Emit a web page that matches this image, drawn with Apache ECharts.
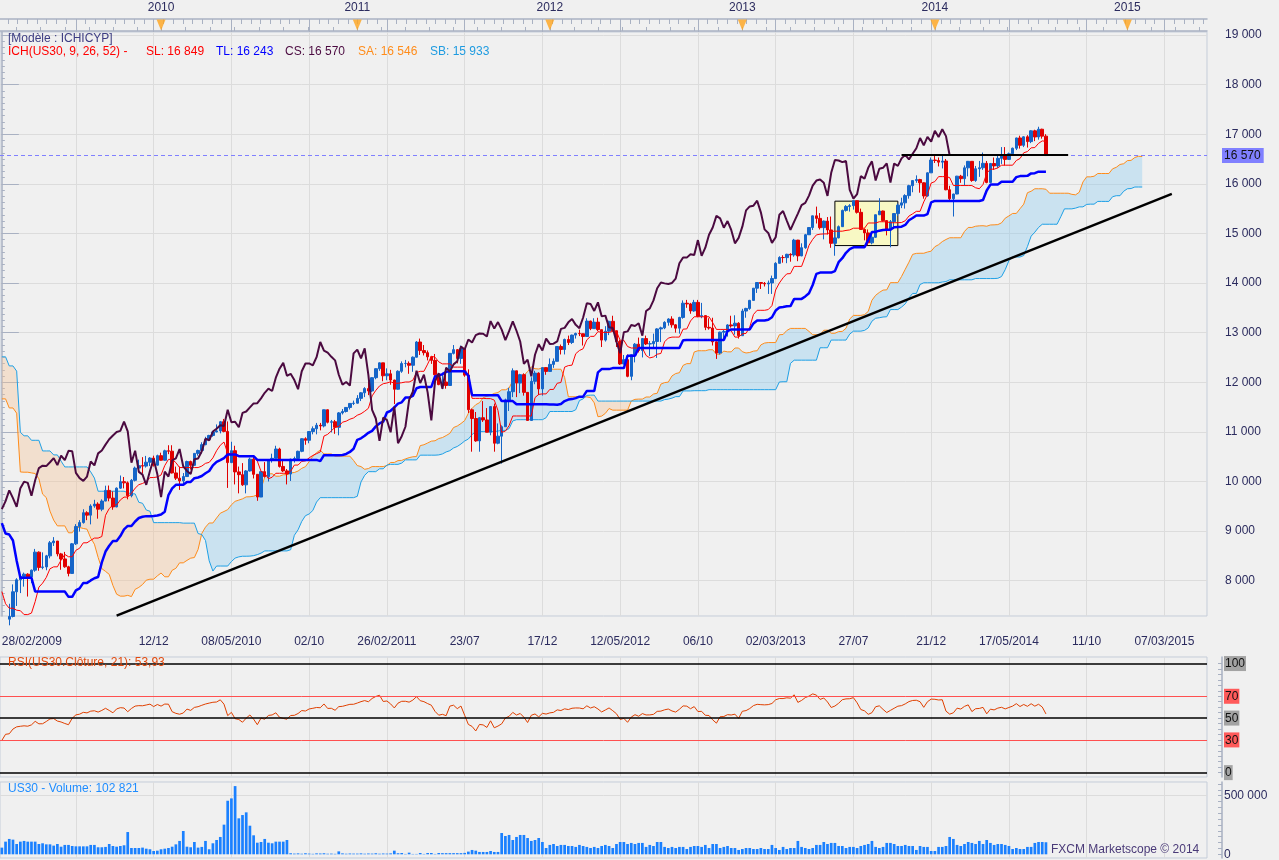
<!DOCTYPE html>
<html>
<head>
<meta charset="utf-8">
<script src="https://cdn.jsdelivr.net/npm/echarts@6/dist/echarts.min.js"></script>
<style>
html,body{margin:0;padding:0;background:#f0f0f0;}
#chart{width:1279px;height:860px;}
</style>
</head>
<body>
<div id="chart"></div>
<script>
/* US30 hebdo - Ichimoku + RSI + volume */

// historique avant le graphique (sept. 2007 - fev. 2009), sert aux calculs
var firstOpen = 13358;
var preClose = [13113,13442,13820,13896,14066,14093,13522,13807,13595,13042,13177,12980,13372,13625,13339,13450,13366,12800,12606,12099,12207,12743,12182,12348,12381,12266,11894,11951,12361,12216,12609,12325,12849,12891,13058,12745,12986,12480,12638,12210,12307,11843,11347,11288,11100,11496,11370,11326,11734,11659,11628,11543,11220,11421,11388,11143,10325,8451,8852,8378,9325,8943,8497,8046,8829,8635,8629,8579,8515,9034,8599,8281,8077,8001,8280,7850,7366,7062];
var preHigh = [13400,13480,13900,13990,14090,14198,14100,13850,13960,13620,13300,13210,13410,13660,13780,13470,13620,13370,12930,12700,12380,12770,12750,12460,12410,12750,12270,12170,12400,12550,12660,12650,12870,12920,13136,13080,13030,13030,12690,12650,12380,12330,11850,11400,11400,11560,11700,11560,11800,11870,11690,11790,11790,11850,11430,11390,11150,10330,9390,9270,9650,9650,9000,8720,8880,8830,8930,8950,8620,9060,9090,8600,8300,8420,8340,8320,7880,7390];
var preLow = [13080,13030,13380,13740,13840,13980,13500,13460,13470,13000,12900,12720,12740,13200,13270,13060,13300,12780,12430,12030,11630,12060,12060,12130,12060,12240,11850,11730,11790,12200,12200,12300,12300,12700,12800,12700,12720,12470,12410,12190,12100,11830,11330,11150,11000,10827,11280,11100,11280,11550,11330,11380,11100,11150,10460,10900,10250,7880,8170,8170,8180,8560,8200,7450,7960,7880,8360,8450,8400,8460,8560,7990,7900,7930,7800,7760,7250,7000];

// bougies hebdo affichees (semaine du 28/02/2009 -> 26/07/2014)
var close2009 = [6627,7224,7278,7776,8018,8083,8131,8076,8212,8575,8268,8277,8500,8764,8799,8540,8438,8280,8146,8743,9093,9171,9370,9321,9505,9544,9441,9605,9820,9665,9487,9865,9996,9972,9713,10023,10270,10318,10310,10388,10471,10329,10520,10428];
var high2009 = [7063,7250,7535,7925,8050,8090,8163,8150,8225,8640,8590,8570,8520,8800,8878,8800,8560,8580,8300,8760,9140,9220,9440,9400,9540,9630,9580,9640,9915,9918,9800,9880,10120,10090,10000,10050,10300,10440,10490,10515,10490,10520,10540,10580];
var low2009 = [6470,6517,7100,7260,7490,7750,7880,7680,7950,8180,8200,8230,8210,8450,8700,8490,8220,8260,8087,8140,8720,8990,9150,9220,9135,9470,9250,9400,9600,9600,9430,9480,9850,9860,9640,9680,10000,10240,10160,10280,10310,10300,10320,10420];

var close2010 = [10618,10610,10172,10067,10012,10099,10402,10325,10566,10625,10742,10850,10927,10997,11019,11204,11009,10380,10620,10193,10137,9932,10212,10450,10144,9686,10198,10098,10425,10466,10654,10303,10213,10150,10448,10462,10608,10861,10830,11006,11063,11133,11118,11445,11193,11204,11092,11382,11410,11492,11573,11578];
var high2010 = [10640,10730,10730,10300,10300,10170,10420,10420,10570,10640,10790,10900,10940,11010,11150,11220,11260,11210,10800,10720,10300,10370,10230,10480,10500,10140,10200,10390,10450,10560,10720,10680,10450,10250,10460,10500,10620,10870,10890,11010,11110,11180,11180,11450,11450,11240,11240,11400,11460,11500,11580,11630];
var low2010 = [10420,10550,10160,10030,9830,9940,10090,10240,10330,10520,10560,10730,10830,10900,10990,10970,10990,9870,10370,9940,9760,9910,9760,10200,10060,9610,9690,10080,10000,10380,10460,10280,10190,9940,10010,10380,10450,10590,10740,10770,10950,10950,11030,11090,11170,10990,10960,10930,11350,11390,11450,11540];

var close2011 = [11675,11787,11872,11824,12092,12273,12391,12130,12170,12044,11859,12221,12377,12380,12342,12505,12811,12638,12596,12512,12441,12151,11952,12004,11934,12582,12657,12480,12681,12143,11445,11269,10818,11285,11240,10992,11509,10771,10913,11103,11644,11809,12231,11983,12153,11796,11231,12019,12184,11866,12294,12218];
var high2011 = [11740,11800,11900,12020,12100,12280,12400,12390,12280,12250,12050,12240,12420,12450,12420,12520,12830,12880,12750,12640,12520,12570,12160,12190,12170,12590,12750,12670,12740,12680,12260,11470,11400,11300,11620,11480,11520,11570,11170,11130,11670,11890,12280,12230,12170,12180,11800,12100,12230,12200,12300,12300];
var low2011 = [11570,11620,11700,11740,11800,12060,12230,12020,12040,11950,11560,11850,12190,12300,12170,12210,12500,12550,12540,12440,12370,12130,11940,11860,11870,11930,12560,12380,12370,12110,11380,10600,10800,10600,11200,10990,10930,10600,10750,10360,11100,11420,11700,11700,11780,11730,11230,11230,11960,11740,11730,12150];

var close2012 = [12360,12422,12720,12660,12862,12801,12950,12983,12978,12922,13233,13081,13212,13060,12850,13029,13228,13038,12821,12369,12455,12119,12554,12767,12640,12880,12772,12777,12822,13075,13096,13207,13275,13157,13090,13306,13593,13579,13437,13610,13328,13343,13107,13093,12815,12588,13009,13025,13155,13135,13190,12938];
var high2012 = [12480,12480,12730,12760,12880,12940,12960,13000,13060,12980,13290,13240,13290,13300,13060,13130,13240,13340,13040,12850,12550,12560,12560,12790,12900,12890,12940,12830,12980,13090,13120,13230,13290,13330,13170,13320,13650,13660,13600,13660,13660,13600,13350,13290,13300,12820,13020,13060,13170,13340,13350,13210];
var low2012 = [12220,12290,12420,12560,12560,12750,12770,12880,12930,12740,12920,13050,13080,13030,12710,12820,12950,13030,12710,12350,12360,12100,12040,12400,12600,12500,12750,12530,12700,12490,12810,13070,13140,13100,13000,12980,13280,13500,13380,13420,13310,13290,13050,13060,12740,12470,12560,12830,12920,13100,12960,12880];

var close2013 = [13435,13488,13650,13896,14010,13993,13982,14001,14090,14397,14515,14512,14579,14565,14865,14547,14712,14973,15118,15354,15303,15116,15248,15070,14800,14910,15136,15464,15544,15559,15659,15425,15081,15010,14810,14922,15376,15452,15258,15073,15237,15400,15570,15616,15762,15962,16065,16086,16020,15755,16221,16479];
var high2013 = [13480,13500,13660,13900,14020,14010,14020,14050,14150,14420,14540,14560,14590,14600,14890,14870,14800,14990,15120,15360,15540,15410,15260,15330,15340,15050,15160,15480,15570,15590,15660,15640,15500,15100,15080,14970,15380,15710,15460,15260,15270,15410,15600,15720,15790,15980,16070,16170,16100,16030,16230,16530];
var low2013 = [12940,13300,13460,13650,13800,13880,13930,13780,13780,14080,14400,14410,14400,14430,14530,14440,14540,14690,14970,15070,15200,15080,14880,14980,14710,14550,14900,15130,15440,15440,15480,15400,15070,14860,14760,14780,14910,15370,15240,14960,14720,15100,15350,15510,15500,15700,15830,16020,15820,15700,15740,16220];

var close2014 = [16470,16437,16459,15880,15699,15794,16154,16103,16322,16453,16066,16303,16323,16413,16027,16409,16361,16513,16583,16492,16606,16717,16924,16776,16947,16851,17068,16944,17100,16961,16570];
var high2014 = [16590,16530,16590,16500,15960,15800,16160,16180,16370,16460,16450,16360,16460,16630,16460,16420,16530,16590,16740,16740,16630,16730,16930,16970,16960,16980,17080,17090,17150,17110,17000];
var low2014 = [16420,16350,16310,15870,15660,15340,15790,16020,15960,16150,16040,16040,16140,16280,16010,16050,16280,16320,16400,16370,16480,16580,16680,16710,16740,16730,16820,16860,16890,16910,16560];

// volume hebdo
var vol2009 = [57000,108000,131000,125000,88000,108000,114000,108000,108000,108000,88000,94000,85000,85000,74000,88000,65000,80000,80000,71000,68000,68000,68000,68000,80000,80000,60000,60000,63000,88000,71000,65000,71000,77000,190000,54000,54000,54000,57000,48000,43000,28000,31000,43000];
var vol2010 = [48000,54000,65000,85000,114000,199000,65000,60000,105000,57000,63000,114000,43000,94000,122000,148000,253000,457000,477000,582000,307000,335000,358000,244000,162000,99000,105000,131000,99000,94000,108000,108000,108000,122000,9000,6000,8000,5000,9000,6000,4000,8000,7000,9000,5000,6000,4000,25000,8000,5000,7000,6000];
var vol2011 = [6000,8000,5000,7000,6000,9000,5000,7000,6000,8000,31000,9000,11000,3000,14000,3000,3000,11000,3000,11000,11000,3000,11000,10000,10000,10000,10000,10000,10000,12000,23000,37000,31000,20000,20000,20000,28000,20000,20000,182000,156000,165000,122000,148000,165000,165000,139000,114000,122000,139000,105000,54000];
var vol2012 = [80000,88000,71000,80000,80000,71000,71000,63000,80000,71000,63000,54000,63000,54000,71000,80000,71000,54000,88000,105000,105000,88000,97000,88000,97000,97000,63000,80000,71000,105000,105000,63000,54000,63000,54000,63000,63000,45000,63000,71000,71000,63000,80000,54000,88000,88000,54000,63000,71000,54000,54000,37000];
var vol2013 = [45000,54000,54000,45000,45000,54000,45000,45000,80000,54000,37000,63000,45000,54000,54000,114000,63000,54000,45000,54000,80000,80000,105000,88000,97000,97000,71000,71000,54000,63000,63000,54000,71000,80000,88000,114000,63000,54000,63000,97000,97000,88000,71000,71000,80000,71000,71000,37000,71000,63000,63000,28000];
var vol2014 = [28000,63000,63000,71000,148000,131000,80000,71000,88000,105000,97000,88000,114000,88000,122000,97000,80000,88000,88000,80000,71000,45000,54000,45000,45000,63000,63000,97000,105000,105000,102821];

// axe des dates (index de semaine depuis le 28/02/2009)
var dateLabelIdx = [0,41,62,83,104,125,146,167,188,209,230,251,272,293,314];
var dateLabels = ['28/02/2009','12/12','08/05/2010','02/10','26/02/2011','23/07','17/12','12/05/2012','06/10','02/03/2013','27/07','21/12','17/05/2014','11/10','07/03/2015'];
var dateTickIdx = [20,41,62,83,104,125,146,167,188,209,230,251,272,293,314];
var yearIdx = [43,96,148,200,252,304];
var yearLabels = ['2010','2011','2012','2013','2014','2015'];

var priceTicks = [8000,9000,10000,11000,12000,13000,14000,15000,16000,17000,18000,19000];
var rsiLevels = [0,30,50,70,100];
var lastPrice = 16570;

// traces manuels (index semaine, prix)
var trendLine = [[31,7295],[316,15796]];
var resistance = [[243,16580],[288,16580]];
var boxZone = [[225,15650],[242,14755]];

/* ------------------------------------------------------------------ */
var close = preClose.concat(close2009,close2010,close2011,close2012,close2013,close2014);
var high = preHigh.concat(high2009,high2010,high2011,high2012,high2013,high2014);
var low = preLow.concat(low2009,low2010,low2011,low2012,low2013,low2014);
var volume = vol2009.concat(vol2010,vol2011,vol2012,vol2013,vol2014);
var P = preClose.length;
var last = close.length - 1 - P;
var N = 326;
var yMin = 7288, yMax = 19060;

function fmt(v){ return String(Math.round(v)).replace(/\B(?=(\d{3})+(?!\d))/g,' '); }
function pad(n){ return n < 10 ? '0'+n : ''+n; }

var cats = [];
for (var i = 0; i < N; i++) {
    var d = new Date(2009, 1, 28 + 7*i);
    cats.push(pad(d.getDate())+'/'+pad(d.getMonth()+1)+'/'+d.getFullYear());
}

function midRange(k, n) {
    if (k - n + 1 < 0 || k >= close.length) return null;
    var h = -Infinity, l = Infinity;
    for (var j = k-n+1; j <= k; j++) {
        if (high[j] > h) h = high[j];
        if (low[j] < l) l = low[j];
    }
    return (h + l) / 2;
}

// RSI 21 (Wilder)
var RN = 21, ag = 0, al = 0, rsiFull = [null];
for (var k = 1; k < close.length; k++) {
    var ch = close[k]-close[k-1], g = ch > 0 ? ch : 0, l = ch < 0 ? -ch : 0;
    if (k <= RN) {
        ag += g/RN; al += l/RN;
        rsiFull.push(k === RN ? 100-100/(1+ag/al) : null);
    } else {
        ag = (ag*(RN-1)+g)/RN; al = (al*(RN-1)+l)/RN;
        rsiFull.push(100-100/(1+ag/al));
    }
}

var candles=[], tenkan=[], kijun=[], chikou=[], spanA=[], spanB=[], cloudBase=[], cloudUp=[], cloudDown=[], rsi=[], vols=[];
for (var i = 0; i < N; i++) {
    var k = i + P;
    if (i <= last) {
        candles.push([k === 0 ? firstOpen : close[k-1], close[k], low[k], high[k]]);
        tenkan.push(midRange(k, 9));
        kijun.push(midRange(k, 26));
        rsi.push(rsiFull[k]);
        vols.push(volume[i]);
    } else {
        candles.push('-'); tenkan.push('-'); kijun.push('-'); rsi.push('-'); vols.push('-');
    }
    chikou.push(k+26 < close.length ? close[k+26] : '-');
    var t = midRange(k-26, 9), kj = midRange(k-26, 26), b = midRange(k-26, 52);
    if (t !== null && kj !== null && b !== null) {
        var a = (t + kj) / 2;
        spanA.push(a); spanB.push(b);
        cloudBase.push(Math.min(a, b));
        cloudUp.push(a >= b ? a-b : 0);
        cloudDown.push(a < b ? b-a : 0);
    } else {
        spanA.push('-'); spanB.push('-'); cloudBase.push('-'); cloudUp.push('-'); cloudDown.push('-');
    }
}

var minorDateTicks = [];
for (var v = dateTickIdx[0] - 21; v <= N; v += 21/8) if (v > -0.5 && v < N-0.5) minorDateTicks.push(v);
var yearTicks = [];
for (var y = 0; y < yearIdx.length; y++) {
    var s = yearIdx[y], e = y+1 < yearIdx.length ? yearIdx[y+1] : s+52;
    for (var m = 0; m < 8; m++) yearTicks.push(s + (e-s)*m/8);
}
for (var m = 1; m <= 6; m++) yearTicks.unshift(yearIdx[0] - 6.5*m);
yearTicks = yearTicks.filter(function(v){ return v > -0.5 && v < N-0.5; });
var priceMinor = [];
for (var v = 7375; v < yMax; v += 125) priceMinor.push(v);
var rsiMinor = [];
for (var v = 0; v <= 100; v += 5) rsiMinor.push(v);
var volMinor = [];
for (var v = 0; v <= 600000; v += 50000) volMinor.push(v);

/* ------------------------------------------------------------------ */
var font = 'Liberation Sans', axisColor = '#a9b1c2', labelColor = '#2b2b5e', gridColor = '#dcdcdc';

function weekAxis(grid, extra) {
    var ax = {type:'value', gridIndex:grid, min:-0.5, max:N-0.5,
        axisLabel:{show:false}, axisTick:{show:false}, axisLine:{show:false},
        splitLine:{show:false}};
    for (var p in extra) ax[p] = extra[p];
    return ax;
}
function catAxis(grid, extra) {
    var ax = {type:'category', gridIndex:grid, data:cats, boundaryGap:true,
        axisLabel:{show:false}, axisTick:{show:false}, axisLine:{show:false}, splitLine:{show:false}};
    for (var p in extra) ax[p] = extra[p];
    return ax;
}
var gridBase = {left:0, width:1207, show:true, borderColor:'#c5cdd9', borderWidth:1,
    backgroundColor:'transparent', containLabel:false, outerBoundsMode:'none'};
function mkGrid(top, height) {
    var g = {}; for (var p in gridBase) g[p] = gridBase[p];
    g.top = top; g.height = height; return g;
}
function txt(x, y, s, color) {
    return {type:'text', left:x, top:y, z:100, style:{text:s, fill:color, font:'12px "Liberation Sans"'}};
}

var chart = echarts.init(document.getElementById('chart'));
var option = {
    animation: false,
    backgroundColor: '#f0f0f0',
    textStyle: {fontFamily: font},
    grid: [mkGrid(32, 584), mkGrid(657, 120), mkGrid(782, 76),
        {left:0, width:1207, top:19, height:12, show:false, outerBoundsMode:'none'}],
    xAxis: [
        catAxis(0, {offset:13, axisLabel:{show:true, margin:7, color:labelColor, fontSize:12, fontFamily:font,
            alignMinLabel:'left',
            interval:function(i){ return dateLabelIdx.indexOf(i) >= 0; },
            formatter:function(v, i){ var p = dateLabelIdx.indexOf(i); return p >= 0 ? dateLabels[p] : ''; }}}),
        weekAxis(0, {offset:13, axisLine:{show:true, lineStyle:{color:axisColor, width:1.5}},
            axisTick:{show:true, inside:true, length:13, customValues:dateTickIdx, lineStyle:{color:axisColor}},
            splitLine:{show:true, lineStyle:{color:gridColor}}}),
        weekAxis(0, {offset:13, axisTick:{show:true, inside:true, length:5, customValues:minorDateTicks, lineStyle:{color:axisColor}}}),
        catAxis(1, {}),
        weekAxis(1, {axisTick:{show:false, customValues:dateTickIdx}, splitLine:{show:true, lineStyle:{color:gridColor}}}),
        catAxis(2, {}),
        weekAxis(2, {axisTick:{show:false, customValues:dateTickIdx}, splitLine:{show:true, lineStyle:{color:gridColor}}}),
        weekAxis(3, {position:'top', axisLine:{show:true, lineStyle:{color:axisColor, width:1.5}},
            axisTick:{show:true, inside:false, length:4, customValues:yearTicks, lineStyle:{color:axisColor}},
            axisLabel:{show:true, margin:5, customValues:yearIdx, color:labelColor, fontSize:12, fontFamily:font,
                formatter:function(v){ var p = yearIdx.indexOf(Math.round(v)); return p >= 0 ? yearLabels[p] : ''; }}})
    ],
    yAxis: [
        {type:'value', gridIndex:0, position:'right', min:yMin, max:yMax,
            axisLine:{show:false},
            axisTick:{show:true, length:17, customValues:priceTicks, lineStyle:{color:axisColor}},
            axisLabel:{customValues:priceTicks, margin:18, color:labelColor, fontSize:12, fontFamily:font, formatter:fmt},
            splitLine:{show:true, lineStyle:{color:gridColor}}},
        {type:'value', gridIndex:0, position:'right', offset:15, min:yMin, max:yMax,
            axisLine:{show:true, lineStyle:{color:axisColor, width:1.5}},
            axisTick:{show:true, length:3, customValues:priceMinor, lineStyle:{color:axisColor}},
            axisLabel:{show:false}, splitLine:{show:false}},
        {type:'value', gridIndex:1, position:'right', min:-4, max:106,
            axisLine:{show:false}, axisTick:{show:false, customValues:rsiLevels},
            axisLabel:{customValues:rsiLevels, margin:17, fontSize:12, fontFamily:font,
                formatter:function(v){ return (v === 30 || v === 70) ? '{r|'+v+'}' : '{g|'+v+'}'; },
                rich:{g:{backgroundColor:'#a3a3a3', color:'#111', fontSize:12, padding:[2,1,1,1]},
                      r:{backgroundColor:'#ff5a5a', color:'#111', fontSize:12, padding:[2,1,1,1]}}},
            splitLine:{show:false}},
        {type:'value', gridIndex:1, position:'right', offset:15, min:-4, max:106,
            axisLine:{show:true, lineStyle:{color:axisColor, width:1.5}},
            axisTick:{show:true, inside:true, length:4, customValues:rsiMinor, lineStyle:{color:axisColor}},
            axisLabel:{show:false}, splitLine:{show:false}},
        {type:'value', gridIndex:2, position:'right', min:-31570, max:616894,
            axisLine:{show:false}, axisTick:{show:false, customValues:[500000]},
            axisLabel:{customValues:[0,500000], margin:17, color:labelColor, fontSize:12, fontFamily:font, formatter:fmt},
            splitLine:{show:true, lineStyle:{color:gridColor}}},
        {type:'value', gridIndex:2, position:'right', offset:15, min:-31570, max:616894,
            axisLine:{show:true, lineStyle:{color:axisColor, width:1.5}},
            axisTick:{show:true, inside:true, length:4, customValues:volMinor, lineStyle:{color:axisColor}},
            axisLabel:{show:false}, splitLine:{show:false}},
        {type:'value', gridIndex:3, min:0, max:1, show:false}
    ],
    series: [
        {name:'base nuage', type:'line', xAxisIndex:0, yAxisIndex:0, stack:'nuage', stackStrategy:'all',
            data:cloudBase, symbol:'none', lineStyle:{opacity:0}, z:1, silent:true,
            markArea:{silent:true, data:[[
                {coord:boxZone[0], itemStyle:{color:'#f8f8c4', borderColor:'#000', borderWidth:1}},
                {coord:boxZone[1]}]]}},
        {name:'nuage haussier', type:'line', xAxisIndex:0, yAxisIndex:0, stack:'nuage', stackStrategy:'all',
            data:cloudUp, symbol:'none', lineStyle:{opacity:0}, areaStyle:{color:'rgba(140,204,240,0.55)'}, z:1, silent:true},
        {name:'nuage baissier', type:'line', xAxisIndex:0, yAxisIndex:0, stack:'nuage', stackStrategy:'all',
            data:cloudDown, symbol:'none', lineStyle:{opacity:0}, areaStyle:{color:'rgba(244,196,152,0.55)'}, z:1, silent:true},
        {name:'SA', type:'line', xAxisIndex:0, yAxisIndex:0, data:spanA, symbol:'none',
            lineStyle:{color:'#ff8c1a', width:1}, z:2, silent:true},
        {name:'SB', type:'line', xAxisIndex:0, yAxisIndex:0, data:spanB, symbol:'none',
            lineStyle:{color:'#1ea0e6', width:1}, z:2, silent:true},
        {name:'US30', type:'candlestick', xAxisIndex:0, yAxisIndex:0, data:candles, barWidth:3, z:3,
            itemStyle:{color:'#1565c8', color0:'#e00000', borderColor:'#1565c8', borderColor0:'#e00000', borderWidth:1},
            markLine:{silent:true, symbol:['none','none'], animation:false, data:[
                {yAxis:lastPrice, lineStyle:{color:'#8080ff', type:[4,3], width:1},
                    label:{show:true, position:'end', distance:15, formatter:fmt(lastPrice), backgroundColor:'#8080ff',
                        color:'#111', fontSize:12, fontFamily:font, padding:[2,3,1,2]}},
                [{coord:trendLine[0], lineStyle:{color:'#000', width:2.5, type:'solid'}, label:{show:false}},
                 {coord:trendLine[1]}],
                [{coord:resistance[0], lineStyle:{color:'#000', width:2, type:'solid'}, label:{show:false}},
                 {coord:resistance[1]}]
            ]}},
        {name:'SL', type:'line', xAxisIndex:0, yAxisIndex:0, data:tenkan, symbol:'none',
            lineStyle:{color:'#ff0000', width:1}, z:4, silent:true},
        {name:'TL', type:'line', xAxisIndex:0, yAxisIndex:0, data:kijun, symbol:'none',
            lineStyle:{color:'#0000ff', width:2.5}, z:4, silent:true},
        {name:'CS', type:'line', xAxisIndex:0, yAxisIndex:0, data:chikou, symbol:'none',
            lineStyle:{color:'#4b0a40', width:2}, z:4, silent:true},
        {name:'RSI', type:'line', xAxisIndex:3, yAxisIndex:2, data:rsi, symbol:'none',
            lineStyle:{color:'#e04000', width:1}, z:3, silent:true,
            markLine:{silent:true, symbol:['none','none'], label:{show:false}, data:[
                {yAxis:rsiLevels[4], lineStyle:{color:'#000', width:1.5, type:'solid'}},
                {yAxis:rsiLevels[3], lineStyle:{color:'#ff5050', width:1, type:'solid'}},
                {yAxis:rsiLevels[2], lineStyle:{color:'#000', width:1.5, type:'solid'}},
                {yAxis:rsiLevels[1], lineStyle:{color:'#ff5050', width:1, type:'solid'}},
                {yAxis:rsiLevels[0], lineStyle:{color:'#000', width:1.5, type:'solid'}}
            ]}},
        {name:'Volume', type:'bar', xAxisIndex:5, yAxisIndex:4, data:vols, barWidth:2.7,
            itemStyle:{color:'#1a80ff'}, silent:true},
        {name:'annees', type:'scatter', xAxisIndex:7, yAxisIndex:6,
            data:yearIdx.map(function(v){ return [v, 1]; }),
            symbol:'triangle', symbolRotate:180, symbolSize:[9,11], symbolOffset:[0,6],
            itemStyle:{color:'#ffa41c'}, silent:true, z:5}
    ],
    graphic: [
        txt(8, 33, '[Modèle : ICHICYP]', '#3c3c82'),
        txt(8, 46, 'ICH(US30, 9, 26, 52) -', '#ff0000'),
        txt(146, 46, 'SL: 16 849', '#ff0000'),
        txt(216, 46, 'TL: 16 243', '#0000ff'),
        txt(285, 46, 'CS: 16 570', '#4b0a40'),
        txt(358, 46, 'SA: 16 546', '#ff8c1a'),
        txt(430, 46, 'SB: 15 933', '#1e9be0'),
        txt(8, 657, 'RSI(US30.Clôture, 21): 53,93', '#e24a0e'),
        txt(8, 783, 'US30 - Volume: 102 821', '#1e8cff'),
        txt(1051, 844, 'FXCM Marketscope © 2014', '#4a3a78')
    ]
};
chart.setOption(option);
</script>
</body>
</html>
